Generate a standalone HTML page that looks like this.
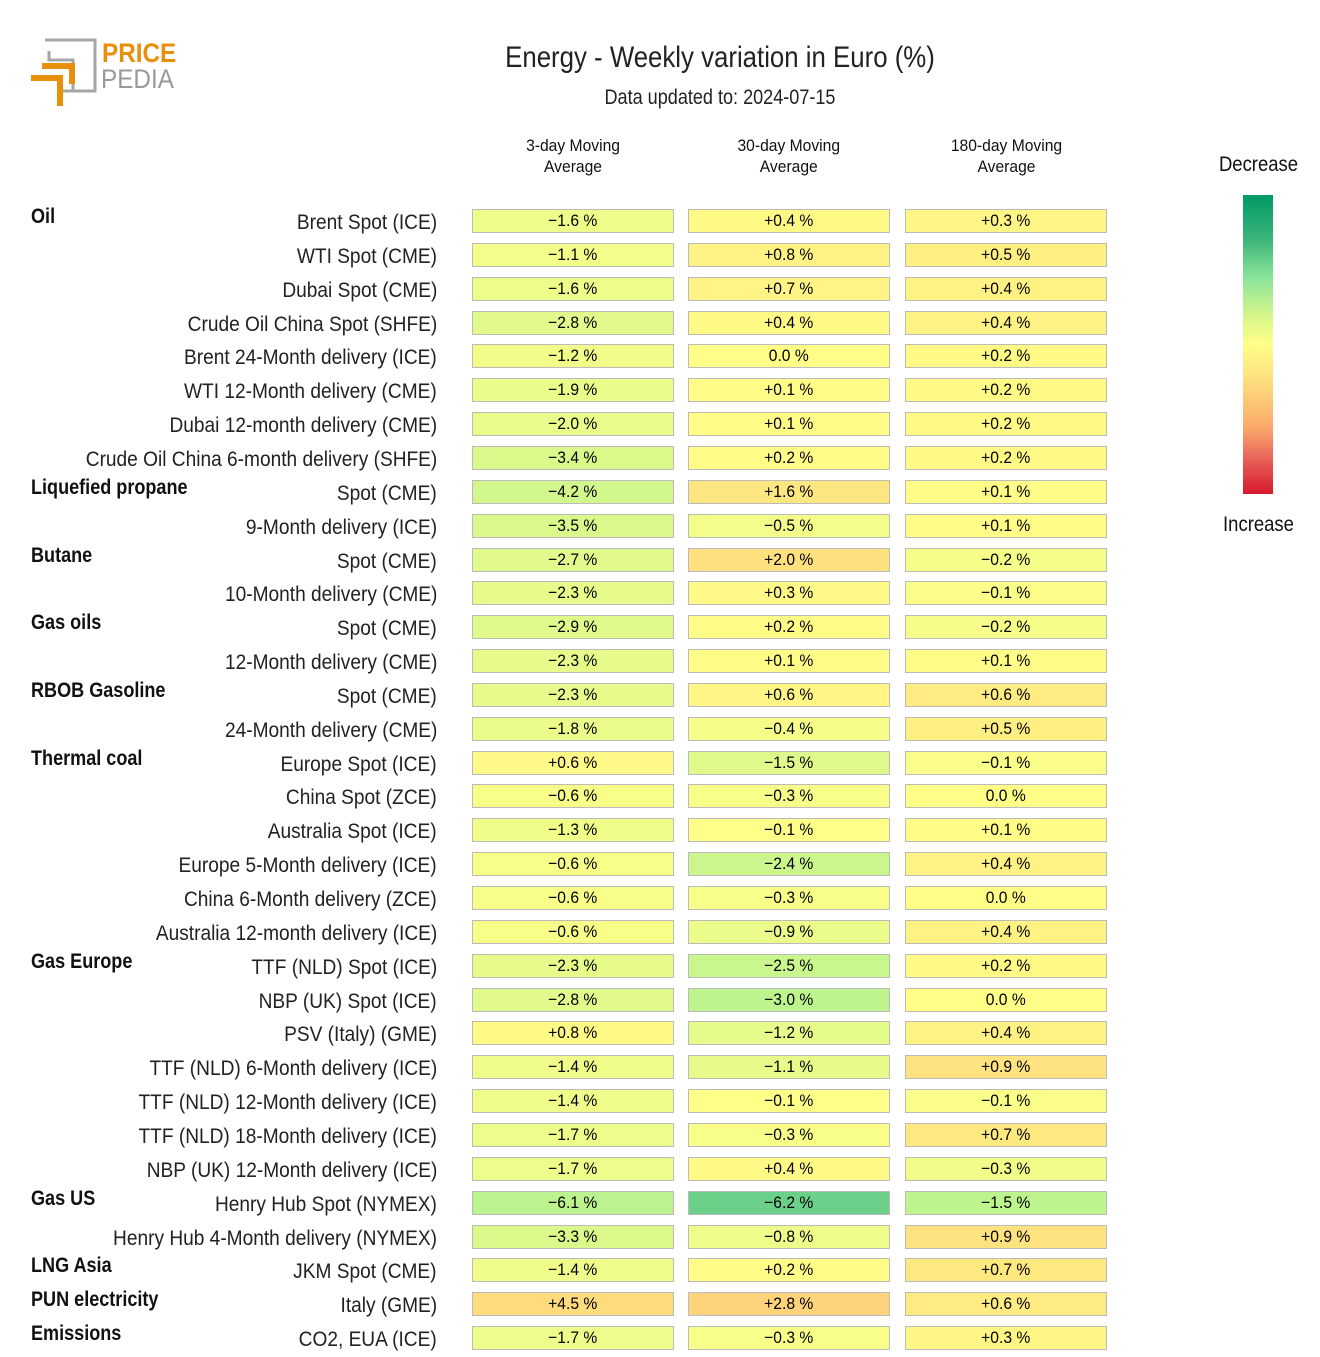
<!DOCTYPE html>
<html><head><meta charset="utf-8"><style>
body{margin:0;width:1320px;height:1357px;background:#fff;position:relative;font-family:"Liberation Sans",sans-serif;color:#111;overflow:hidden}
.a{position:absolute;white-space:nowrap}
.lab{right:883px;font-size:21px;transform:translateY(-50%) scaleX(0.91);transform-origin:right center;color:#222}
.grp{left:31px;font-size:21px;font-weight:bold;transform:translateY(-50%) scaleX(0.86);transform-origin:left center;color:#111}
.cell{position:absolute;width:202px;height:24px;border:1px solid #bbb;box-sizing:border-box;text-align:center;font-size:17px;line-height:22px;color:#000}
.cell span{display:inline-block;transform:scaleX(0.92)}
.hd{font-size:17px;text-align:center;width:202px;line-height:21px}
.hd span{display:inline-block;transform:scaleX(0.92)}
</style></head><body>
<svg class="a" style="left:28px;top:36px" width="160" height="75">
<path d="M17 4 H67 V55 H29" fill="none" stroke="#a6a6a6" stroke-width="3"/>
<path d="M21 15 V24 H45 V55" fill="none" stroke="#a6a6a6" stroke-width="3"/>
<path d="M3 42 H32 V70" fill="none" stroke="#e8900c" stroke-width="6"/>
<path d="M14 30 H44 V48" fill="none" stroke="#e8900c" stroke-width="6"/>
</svg>
<div class="a" style="left:102px;top:38px;font-size:27px;font-weight:bold;color:#e8900c;transform:scaleX(0.9);transform-origin:left">PRICE</div>
<div class="a" style="left:101px;top:64px;font-size:27px;color:#999;transform:scaleX(0.9);transform-origin:left">PEDIA</div>
<div class="a" style="left:420px;width:600px;text-align:center;top:41px;font-size:30px;color:#222;transform:scaleX(0.86)">Energy - Weekly variation in Euro (%)</div>
<div class="a" style="left:420px;width:600px;text-align:center;top:86px;font-size:21px;color:#222;transform:scaleX(0.86)">Data updated to: 2024-07-15</div>
<div class="a hd" style="left:472px;top:135px"><span>3-day Moving<br>Average</span></div>
<div class="a hd" style="left:688px;top:135px"><span>30-day Moving<br>Average</span></div>
<div class="a hd" style="left:905px;top:135px"><span>180-day Moving<br>Average</span></div>
<div class="a" style="left:1200px;width:117px;text-align:center;top:153px;font-size:21px;transform:scaleX(0.88)">Decrease</div>
<div class="a" style="left:1200px;width:117px;text-align:center;top:513px;font-size:21px;transform:scaleX(0.88)">Increase</div>
<div class="a" style="left:1243px;top:195px;width:30px;height:299px;background:linear-gradient(#009966,#3db57a 15%,#8de59a 28%,#d4f58a 40%,#ffff88 50%,#fdd57a 65%,#fba86b 78%,#e8645a 88%,#d7192d)"></div>
<div id="c"></div>
<script>
const rows=[
["Oil","Brent Spot (ICE)",-1.6,0.4,0.3],
["","WTI Spot (CME)",-1.1,0.8,0.5],
["","Dubai Spot (CME)",-1.6,0.7,0.4],
["","Crude Oil China Spot (SHFE)",-2.8,0.4,0.4],
["","Brent 24-Month delivery (ICE)",-1.2,0.0,0.2],
["","WTI 12-Month delivery (CME)",-1.9,0.1,0.2],
["","Dubai 12-month delivery (CME)",-2.0,0.1,0.2],
["","Crude Oil China 6-month delivery (SHFE)",-3.4,0.2,0.2],
["Liquefied propane","Spot (CME)",-4.2,1.6,0.1],
["","9-Month delivery (ICE)",-3.5,-0.5,0.1],
["Butane","Spot (CME)",-2.7,2.0,-0.2],
["","10-Month delivery (CME)",-2.3,0.3,-0.1],
["Gas oils","Spot (CME)",-2.9,0.2,-0.2],
["","12-Month delivery (CME)",-2.3,0.1,0.1],
["RBOB Gasoline","Spot (CME)",-2.3,0.6,0.6],
["","24-Month delivery (CME)",-1.8,-0.4,0.5],
["Thermal coal","Europe Spot (ICE)",0.6,-1.5,-0.1],
["","China Spot (ZCE)",-0.6,-0.3,0.0],
["","Australia Spot (ICE)",-1.3,-0.1,0.1],
["","Europe 5-Month delivery (ICE)",-0.6,-2.4,0.4],
["","China 6-Month delivery (ZCE)",-0.6,-0.3,0.0],
["","Australia 12-month delivery (ICE)",-0.6,-0.9,0.4],
["Gas Europe","TTF (NLD) Spot (ICE)",-2.3,-2.5,0.2],
["","NBP (UK) Spot (ICE)",-2.8,-3.0,0.0],
["","PSV (Italy) (GME)",0.8,-1.2,0.4],
["","TTF (NLD) 6-Month delivery (ICE)",-1.4,-1.1,0.9],
["","TTF (NLD) 12-Month delivery (ICE)",-1.4,-0.1,-0.1],
["","TTF (NLD) 18-Month delivery (ICE)",-1.7,-0.3,0.7],
["","NBP (UK) 12-Month delivery (ICE)",-1.7,0.4,-0.3],
["Gas US","Henry Hub Spot (NYMEX)",-6.1,-6.2,-1.5],
["","Henry Hub 4-Month delivery (NYMEX)",-3.3,-0.8,0.9],
["LNG Asia","JKM Spot (CME)",-1.4,0.2,0.7],
["PUN electricity","Italy (GME)",4.5,2.8,0.6],
["Emissions","CO2, EUA (ICE)",-1.7,-0.3,0.3]];
const stops=[[-10,[0,153,102]],[-6,[112,211,140]],[-3,[190,244,142]],[0,[255,255,136]],[3,[253,208,122]],[6,[251,168,107]],[10,[215,25,45]]];
function col(v){v=Math.max(-10,Math.min(10,v));for(let i=0;i<stops.length-1;i++){const[a,ca]=stops[i],[b,cb]=stops[i+1];if(v<=b){const t=(v-a)/(b-a);return"rgb("+ca.map((x,k)=>Math.round(x+(cb[k]-x)*t)).join(",")+")";}}}
function fmt(v){return (v>0?"+":v<0?"−":"")+Math.abs(v).toFixed(1)+" %";}
let h="";const xs=[472,688,905],sc=[0.5,1,2];
rows.forEach((r,i)=>{const y=221+i*33.85;
if(r[0])h+=`<div class="a grp" style="top:${y-4}px">${r[0]}</div>`;
h+=`<div class="a lab" style="top:${y+2}px">${r[1]}</div>`;
for(let j=0;j<3;j++)h+=`<div class="cell" style="left:${xs[j]}px;top:${y-12}px;background:${col(r[j+2]*sc[j])}"><span>${fmt(r[j+2])}</span></div>`;});
document.getElementById("c").innerHTML=h;
</script>
</body></html>
